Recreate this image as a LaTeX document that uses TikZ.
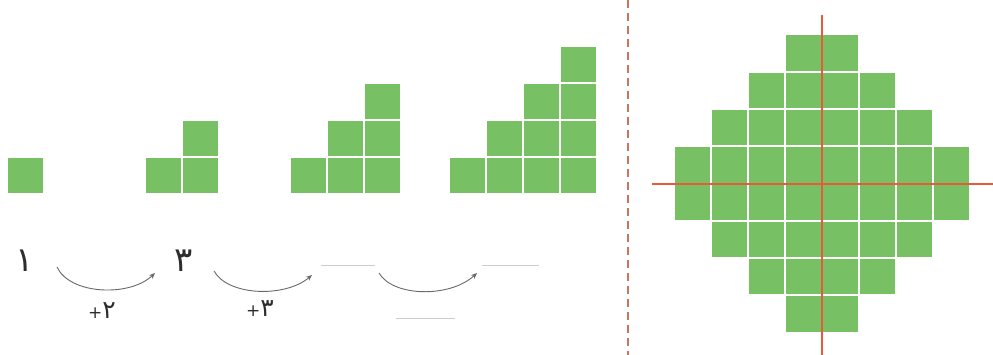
\documentclass[tikz,border=0pt]{standalone}
\usepackage{fontspec}
\usetikzlibrary{arrows.meta}
\newfontfamily\arabicfont[Script=Arabic]{DejaVu Sans}
\definecolor{cellgreen}{RGB}{120,192,100}
\definecolor{axisred}{RGB}{233,90,60}
\definecolor{dashred}{RGB}{205,115,95}
\definecolor{arrowgray}{RGB}{105,105,105}
\definecolor{blankgray}{RGB}{205,205,205}
\definecolor{digitgray}{RGB}{45,45,45}
\tikzset{
  cellbox/.style={fill=cellgreen, draw=none},
  axisline/.style={draw=axisred, line width=1.6pt},
  dividerline/.style={draw=dashred, line width=1.6pt, dash pattern=on 8pt off 5pt},
  steparrow/.style={draw=arrowgray, line width=0.9pt, -{Stealth[length=6pt,width=5pt]}},
  blankline/.style={draw=blankgray, line width=0.8pt},
  bignum/.style={text=digitgray, font=\arabicfont\fontsize{34}{36}\selectfont, inner sep=0pt},
  smallnum/.style={text=digitgray, font=\arabicfont\fontsize{25}{28}\selectfont, inner sep=0pt}
}
\newcommand{\cellat}[2]{\fill[cellbox] (#1,#2) rectangle ++(35,35);}
\newcommand{\smallplus}{\hbox{\fontsize{17}{18}\selectfont +}}
\begin{document}
\begin{tikzpicture}[x=1pt,y=-1pt]
\useasboundingbox (0,0) rectangle (993,355);
\fill[white] (0,0) rectangle (993,355);
% staircase 1
\cellat{8}{158}
% staircase 2
\foreach \c in {1,2}{
  \foreach \r in {1,...,\c}{
    \pgfmathsetmacro{\xx}{146+(\c-1)*37}
    \pgfmathsetmacro{\yy}{158-(\r-1)*37}
    \cellat{\xx}{\yy}
  }
}
% staircase 3
\foreach \c in {1,2,3}{
  \foreach \r in {1,...,\c}{
    \pgfmathsetmacro{\xx}{291+(\c-1)*37}
    \pgfmathsetmacro{\yy}{158-(\r-1)*37}
    \cellat{\xx}{\yy}
  }
}
% staircase 4
\foreach \c in {1,2,3,4}{
  \foreach \r in {1,...,\c}{
    \pgfmathsetmacro{\xx}{450+(\c-1)*37}
    \pgfmathsetmacro{\yy}{158-(\r-1)*37}
    \cellat{\xx}{\yy}
  }
}
% divider
\coordinate (divtop) at (628,0);
\coordinate (divbot) at (628,355);
\draw[dividerline] (divtop) -- (divbot);
% diamond
\foreach \r/\n in {0/2,1/4,2/6,3/8,4/8,5/6,6/4,7/2}{
  \foreach \c in {1,...,\n}{
    \pgfmathsetmacro{\xx}{822-\n*18.5+(\c-1)*37+1}
    \pgfmathsetmacro{\yy}{35+\r*37.25+0.5}
    \fill[cellbox] (\xx,\yy) rectangle ++(35,35.5);
  }
}
% axes
\coordinate (vtop) at (822,15);
\coordinate (vbot) at (822,355);
\coordinate (hleft) at (652,184);
\coordinate (hright) at (993,184);
\draw[axisline] (vtop) -- (vbot);
\draw[axisline] (hleft) -- (hright);
% numbers
\node[bignum] (n1) at (25,261) {١};
\node[bignum] (n3) at (184,261) {٣};
\node[smallnum] (p2) at (102,311) {\smallplus\hbox{٢}};
\node[smallnum] (p3) at (260,309) {\smallplus\hbox{٣}};
% arrows
\coordinate (a1s) at (57,267);
\coordinate (a1e) at (155,273);
\coordinate (a2s) at (214,271);
\coordinate (a2e) at (312,275);
\coordinate (a3s) at (379,273);
\coordinate (a3e) at (477,273);
\draw[steparrow] (a1s) .. controls (70,295) and (130,297) .. (a1e);
\draw[steparrow] (a2s) .. controls (228,296) and (285,298) .. (a2e);
\draw[steparrow] (a3s) .. controls (393,297) and (450,298) .. (a3e);
% blanks
\coordinate (b1s) at (321,265); \coordinate (b1e) at (375,265);
\coordinate (b2s) at (396,318); \coordinate (b2e) at (455,318);
\coordinate (b3s) at (482,265); \coordinate (b3e) at (539,265);
\draw[blankline] (b1s) -- (b1e);
\draw[blankline] (b2s) -- (b2e);
\draw[blankline] (b3s) -- (b3e);
\end{tikzpicture}
\end{document}
